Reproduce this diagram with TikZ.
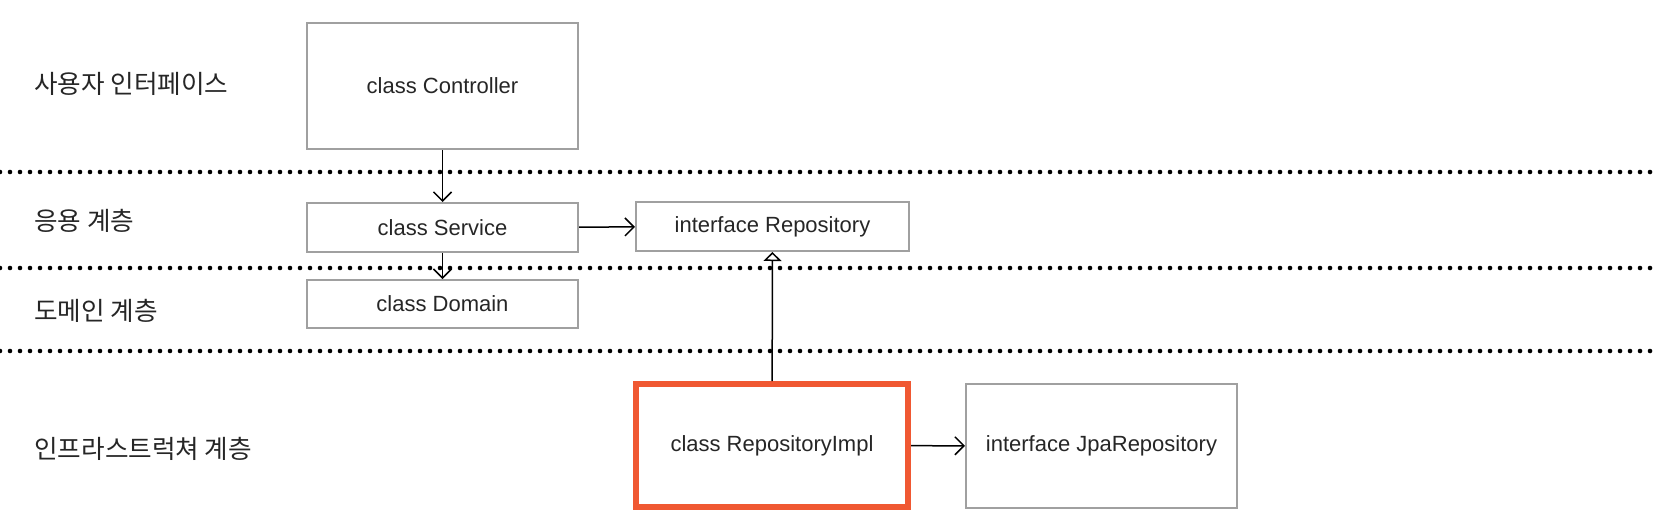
\documentclass[tikz,border=0pt]{standalone}
\usepackage{fontspec}
\setmainfont{Liberation Sans}
\newfontfamily\krfont{Noto Sans CJK KR}
\usetikzlibrary{arrows.meta}

\definecolor{boxgray}{RGB}{160,160,160}
\definecolor{implred}{RGB}{240,88,50}

\begin{document}
\begin{tikzpicture}[
  x=0.5pt, y=-0.5pt,
  >={Straight Barb[length=4.5pt,width=9pt]},
  font=\fontsize{11}{13}\selectfont,
  box/.style={draw=boxgray,line width=1pt,minimum width=135.5pt,inner sep=0pt,text=black!85},
  layer/.style={anchor=west,inner sep=0pt,text=black!85,font=\krfont\fontsize{12.8}{15}\selectfont},
  sep/.style={line width=2.3pt,line cap=round,dash pattern=on 0pt off 5pt},
  dep/.style={->,line width=.75pt},
  realize/.style={-{Triangle[open,length=4.5pt,width=9pt]},line width=.75pt}
]
  \useasboundingbox (0,0) rectangle (1655,520);

  % Layer separators.
  \draw[sep] (0,172)--(1655,172);
  \draw[sep] (0,268)--(1655,268);
  \draw[sep] (0,351)--(1655,351);

  % Layer names.
  \node[layer] (lblui) at (34,84) {사용자 인터페이스};
  \node[layer] (lblapp) at (34,221) {응용 계층};
  \node[layer] (lbldomain) at (34,311) {도메인 계층};
  \node[layer] (lblinfra) at (34,449) {인프라스트럭쳐 계층};

  % Classes.
  \node[box,minimum height=63pt] (ctrl) at (442.5,86) {class Controller};
  \node[box,minimum height=24.5pt] (service) at (442.5,227.5) {class Service};
  \node[box,minimum height=24.5pt,minimum width=136.5pt] (repo) at (772.5,226.5)
    {interface Repository};
  \node[box,minimum height=24pt] (domain) at (442.5,304) {class Domain};
  \node[box,draw=implred,line width=3pt,minimum width=136pt,minimum height=61.5pt]
    (impl) at (772,445.5) {class RepositoryImpl};
  \node[box,minimum height=62pt] (jpa) at (1101.5,446) {interface JpaRepository};

  % Dependencies.
  \draw[dep] (ctrl)--(service);
  \draw[dep] (service)--(domain);
  \draw[dep] (service)--(repo);
  \draw[dep] (impl)--(jpa);
  \draw[realize] (impl)--(repo);
\end{tikzpicture}
\end{document}
